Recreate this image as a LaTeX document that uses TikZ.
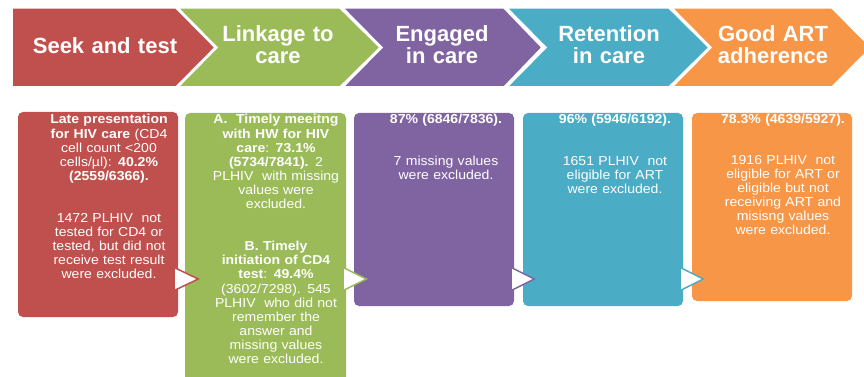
\documentclass[tikz,border=0pt]{standalone}
\usepackage{fontspec}
\setmainfont{Liberation Sans}
\newfontfamily\boxfont[FakeStretch=1.08]{Liberation Sans}
\usetikzlibrary{calc,positioning}
\definecolor{seekred}{HTML}{C0504D}
\definecolor{linkgreen}{HTML}{9BBB59}
\definecolor{engpurple}{HTML}{8064A2}
\definecolor{retteal}{HTML}{4BACC6}
\definecolor{artorange}{HTML}{F79646}
\newcommand{\tightlines}{\lineskiplimit=-20pt\relax}
\tikzset{
  stage/.style={draw=white, line width=1.5pt, line join=miter},
  stagetitle/.style={text=white, font=\fontsize{22}{21.5}\selectfont\bfseries, text width=150pt, align=center, anchor=base, inner sep=0pt},
  infobox/.style={rectangle, rounded corners=5pt, draw=none, minimum width=160pt, inner sep=0pt},
  infotext/.style={text=white, font=\boxfont\fontsize{13}{14.1}\selectfont\tightlines, text width=145pt, align=center, anchor=base, inner sep=0pt},
  tipmark/.style={fill=white, draw=#1, line width=1.5pt, line join=miter}
}

\begin{document}
\begin{tikzpicture}[x=1pt, y=-1pt]
\useasboundingbox (0,0) rectangle (864,377);
\fill[white] (0,0) rectangle (864,377);

\fill[stage, fill=seekred] (12,8) -- (176,8) -- (215,47.5) -- (176,87) -- (12,87) -- cycle;
\fill[stage, fill=linkgreen] (178,8) -- (340,8) -- (380,47.5) -- (340,87) -- (178,87) -- (217,47.5) -- cycle;
\fill[stage, fill=engpurple] (343,8) -- (504,8) -- (542,47.5) -- (504,87) -- (343,87) -- (382,47.5) -- cycle;
\fill[stage, fill=retteal] (507,8) -- (669,8) -- (709,47.5) -- (669,87) -- (507,87) -- (546,47.5) -- cycle;
\fill[stage, fill=artorange] (672,8) -- (832,8) -- (871,47.5) -- (832,87) -- (672,87) -- (711,47.5) -- cycle;

\node[stagetitle] (seektitle) at (105,54) {Seek and test};
\node[stagetitle] (linktitle) at (278,42) {Linkage to\\care};
\node[stagetitle] (engtitle) at (442,42) {Engaged\\in care};
\node[stagetitle] (rettitle) at (609,42) {Retention\\in care};
\node[stagetitle] (arttitle) at (773,42) {Good ART\\adherence};

\node[infobox, fill=seekred, minimum height=205pt] (seekbox) at (98,214.5) {};
\node[infobox, fill=linkgreen, minimum width=161pt, minimum height=269pt] (linkbox) at (265.5,247.5) {};
\node[infobox, fill=engpurple, minimum height=193pt] (engbox) at (434,209.5) {};
\node[infobox, fill=retteal, minimum height=193pt] (retbox) at (603,209.5) {};
\node[infobox, fill=artorange, minimum height=188pt] (artbox) at (772,207) {};

\node[infotext] (seektext) at (109,124) {\textbf{Late presentation}\\ \textbf{for HIV care} (CD4\\ cell count <200\\ cells/µl): \textbf{40.2\%}\\ \textbf{(2559/6366).}\\[28pt] 1472 PLHIV\ \ not\\ tested for CD4 or\\ tested, but did not\\ receive test result\\ were excluded.};
\node[infotext] (linktext) at (276,124) {\textbf{A.\ \ Timely meeitng}\\ \textbf{with HW for HIV}\\ \textbf{care}: \textbf{73.1\%}\\ \textbf{(5734/7841).} 2\\ PLHIV\ \ with missing\\ values were\\ excluded.\\[28pt] \textbf{B. Timely}\\ \textbf{initiation of CD4}\\ \textbf{test}: \textbf{49.4\%}\\ (3602/7298). 545\\ PLHIV\ \ who did not\\ remember the\\ answer and\\ missing values\\ were excluded.};
\node[infotext] (engtext) at (446,124) {\textbf{87\% (6846/7836).}\\[27pt] 7 missing values\\ were excluded.};
\node[infotext] (rettext) at (615,124) {\textbf{96\% (5946/6192).}\\[27pt] 1651 PLHIV\ \ not\\ eligible for ART\\ were excluded.};
\node[infotext] (arttext) at (783,124) {\textbf{78.3\% (4639/5927).}\\[26pt] 1916 PLHIV\ \ not\\ eligible for ART or\\ eligible but not\\ receiving ART and\\ misisng values\\ were excluded.};

\coordinate (tipline) at (0,279);
\draw[tipmark=seekred] ($(seekbox.east |- tipline)+(-4,-11.5)$) -- ++(24,11.5) -- ++(-24,11.5) -- cycle;
\draw[tipmark=linkgreen] ($(linkbox.east |- tipline)+(-3,-11.5)$) -- ++(23,11.5) -- ++(-23,11.5) -- cycle;
\draw[tipmark=engpurple] ($(engbox.east |- tipline)+(-3,-11.5)$) -- ++(23,11.5) -- ++(-23,11.5) -- cycle;
\draw[tipmark=retteal] ($(retbox.east |- tipline)+(-3,-11.5)$) -- ++(23,11.5) -- ++(-23,11.5) -- cycle;
\end{tikzpicture}
\end{document}
